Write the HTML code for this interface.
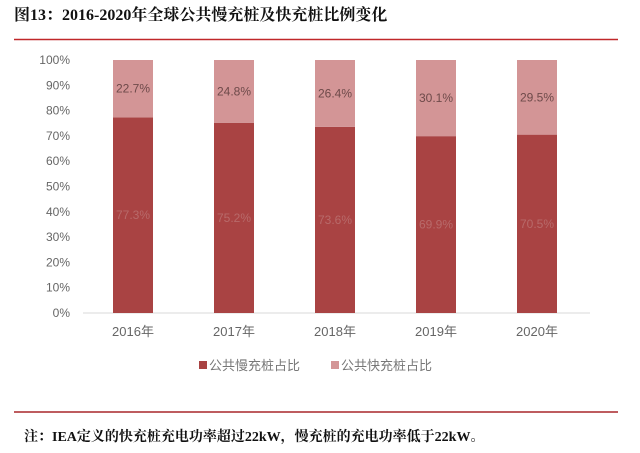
<!DOCTYPE html>
<html><head><meta charset="utf-8"><style>
body{margin:0;background:#fff;width:640px;height:448px;overflow:hidden;font-family:"Liberation Serif","Noto Serif CJK SC",serif;}
</style></head><body>
<svg width="640" height="448" xmlns="http://www.w3.org/2000/svg">
<text x="14" y="20" font-size="16" fill="#111" font-weight="bold" font-family="Liberation Serif, Noto Serif CJK SC, serif">图13：2016-2020年全球公共慢充桩及快充桩比例变化</text>
<line x1="14" y1="39.5" x2="618" y2="39.5" stroke="#c0282a" stroke-width="1.5"/>
<g id="yaxis" font-family="Liberation Sans, sans-serif" font-size="12" fill="#666"></g>
<line x1="83" y1="313" x2="590" y2="313" stroke="#d9d9d9" stroke-width="1"/>
<g id="bars"></g>
<g id="xlabels" font-family="Liberation Sans, Noto Sans CJK SC, sans-serif" font-size="13" fill="#666"></g>
<g font-family="Liberation Sans, Noto Sans CJK SC, sans-serif" font-size="13" fill="#777">
<rect x="199" y="361" width="8" height="8" fill="#a94343"/>
<text x="209" y="370">公共慢充桩占比</text>
<rect x="331" y="361" width="8" height="8" fill="#d39596"/>
<text x="341" y="370">公共快充桩占比</text>
</g>
<line x1="14" y1="412" x2="618" y2="412" stroke="#a8272a" stroke-width="1.5"/>
<text x="24" y="441" font-size="14" fill="#111" font-weight="bold" font-family="Liberation Serif, Noto Serif CJK SC, serif">注：IEA定义的快充桩充电功率超过22kW，慢充桩的充电功率低于22kW。</text>
</svg>
<script>
const categories=["2016年","2017年","2018年","2019年","2020年"];
const slowValues=[77.3,75.2,73.6,69.9,70.5];
const fastValues=[22.7,24.8,26.4,30.1,29.5];
const yTicks=[0,10,20,30,40,50,60,70,80,90,100];
const NS="http://www.w3.org/2000/svg";
const y=v=>313-v*2.53;
const x=i=>133+i*101;
const bw=40;
function mk(tag,attrs,parent,txt){const e=document.createElementNS(NS,tag);for(const k in attrs)e.setAttribute(k,attrs[k]);if(txt!==undefined)e.textContent=txt;parent.appendChild(e);return e;}
const ya=document.getElementById('yaxis');
yTicks.forEach(t=>{const e=mk('text',{x:70,y:y(t)+4,'text-anchor':'end'},ya,t+'%');

});
const bg=document.getElementById('bars');
const xl=document.getElementById('xlabels');
categories.forEach((c,i)=>{
 const s=slowValues[i],f=fastValues[i];
 const r1=mk('rect',{x:x(i)-bw/2,y:y(s),width:bw,height:y(0)-y(s),fill:'#a94343'},bg);
 
 
 const r2=mk('rect',{x:x(i)-bw/2,y:y(s+f),width:bw,height:y(s)-y(s+f),fill:'#d39596'},bg);
 
 
 const t1=mk('text',{x:x(i),y:y(s/2)+4,'text-anchor':'middle','font-size':12,fill:'#b86a6a','font-family':'Liberation Sans, sans-serif'},bg,s.toFixed(1)+'%');
 
 
 const t2=mk('text',{x:x(i),y:y(s+f/2)+4,'text-anchor':'middle','font-size':12,fill:'#6e4a4a','font-family':'Liberation Sans, sans-serif'},bg,f.toFixed(1)+'%');
 
 
 const xt=mk('text',{x:x(i),y:336,'text-anchor':'middle'},xl,c);
 
 
});
</script>
</body></html>
